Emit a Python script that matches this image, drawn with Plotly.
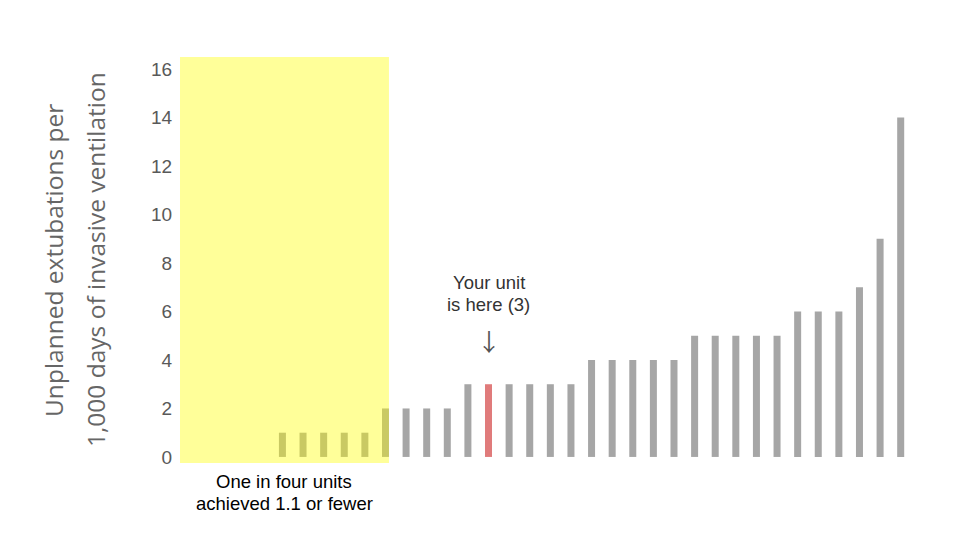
import plotly.graph_objects as go

units = list(range(35))
values = [0, 0, 0, 0, 1, 1, 1, 1, 1, 2, 2, 2, 2, 3, 3, 3, 3, 3, 3,
          4, 4, 4, 4, 4, 5, 5, 5, 5, 5, 6, 6, 6, 7, 9, 14]
your_unit_index = 14
colors = ["#e07b7b" if i == your_unit_index else "#a6a6a6" for i in units]
y_ticks = [0, 2, 4, 6, 8, 10, 12, 14, 16]

W, H = 960, 540
L, R, T, B = 172, 57, 49, 85
pw = W - L - R

fig = go.Figure()
fig.add_trace(go.Bar(x=units, y=values, marker=dict(color=colors, line=dict(width=0)),
                     hoverinfo="y"))

fig.add_shape(type="rect", xref="x", yref="y", x0=-0.97, x1=9.17, y0=-0.25, y1=16.5,
              fillcolor="rgba(255,255,0,0.4)", line=dict(width=0), layer="above")

fig.add_annotation(x=your_unit_index, y=7.18, xref="x", yref="y",
                   text="Your unit", showarrow=False,
                   font=dict(family="Liberation Sans, Arial", size=18.5, color="#333333"),
                   yanchor="middle")
fig.add_annotation(x=your_unit_index, y=6.27, xref="x", yref="y",
                   text="is here (3)", showarrow=False,
                   font=dict(family="Liberation Sans, Arial", size=18.5, color="#333333"),
                   yanchor="middle")
fig.add_annotation(x=your_unit_index, y=4.82, xref="x", yref="y",
                   text="↓", showarrow=False,
                   font=dict(family="Noto Sans CJK JP", size=24, color="#555555"),
                   yanchor="middle")
fig.add_annotation(x=4.1, y=-0.045, xref="x", yref="paper",
                   text="One in four units", showarrow=False,
                   font=dict(family="Liberation Sans, Arial", size=18.5, color="#000000"),
                   yanchor="middle")
fig.add_annotation(x=4.1, y=-0.099, xref="x", yref="paper",
                   text="achieved 1.1 or fewer", showarrow=False,
                   font=dict(family="Liberation Sans, Arial", size=18.5, color="#000000"),
                   yanchor="middle")
fig.add_annotation(x=(45 - L) / pw, y=0.5, xref="paper", yref="paper",
                   text="Unplanned extubations per",
                   textangle=-90, showarrow=False,
                   font=dict(family="Open Sans", size=24.5, color="#666666"),
                   xanchor="center", yanchor="middle")
fig.add_annotation(x=(87 - L) / pw, y=0.5, xref="paper", yref="paper",
                   text="1,000 days of invasive ventilation",
                   textangle=-90, showarrow=False,
                   font=dict(family="Open Sans", size=24.5, color="#666666"),
                   xanchor="center", yanchor="middle")

fig.update_layout(
    width=W, height=H,
    margin=dict(l=L, r=R, t=T, b=B),
    plot_bgcolor="white", paper_bgcolor="white",
    showlegend=False, bargap=0.66,
    xaxis=dict(range=[-0.97, 34.5], showticklabels=False, showgrid=False,
               zeroline=False, showline=False, ticks=""),
    yaxis=dict(range=[-0.25, 16.5], tickvals=y_ticks, showgrid=False, zeroline=False,
               showline=False, ticks="outside", ticklen=3, tickcolor="rgba(0,0,0,0)",
               tickfont=dict(family="Liberation Sans, Arial", size=19, color="#595959")),
)

fig.write_html("out.html")
